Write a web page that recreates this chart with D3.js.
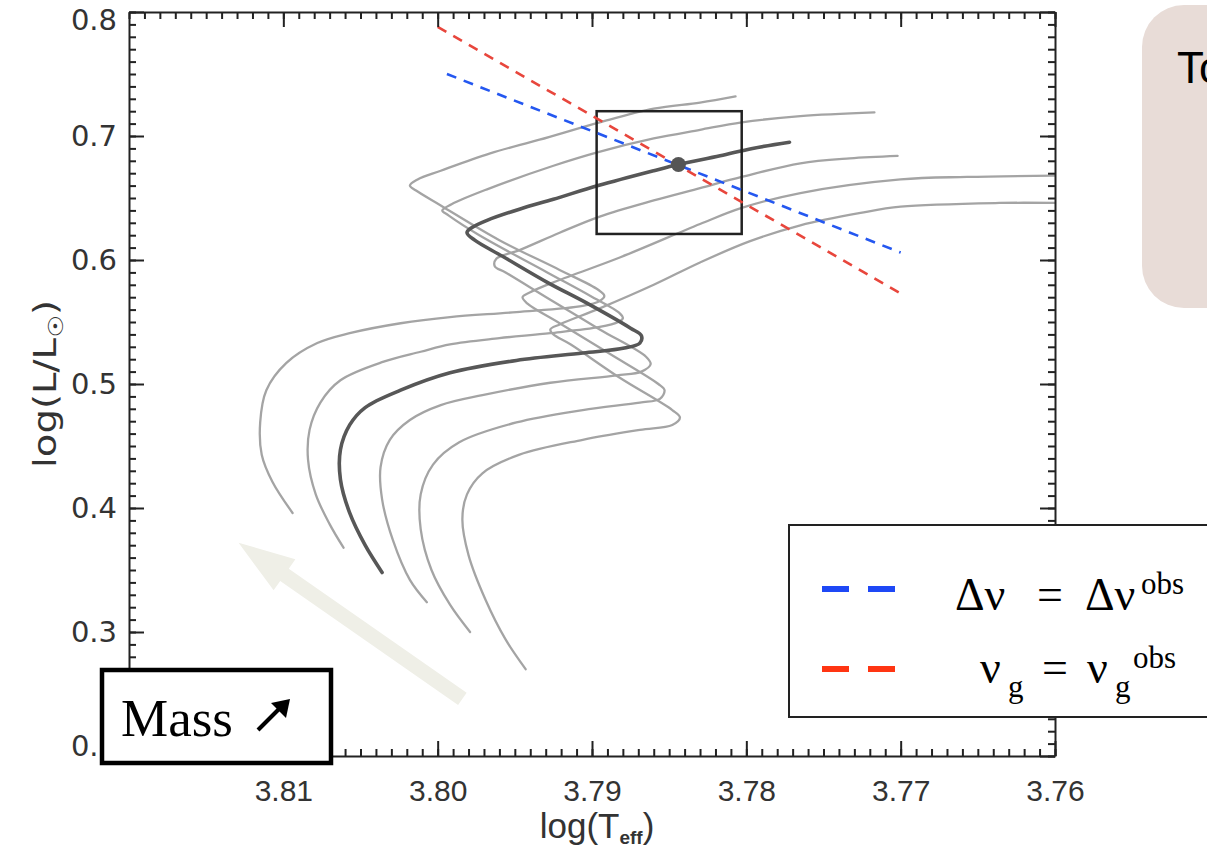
<!DOCTYPE html>
<meta charset="utf-8">
<style>

body { margin: 0; background: #fff; }
svg { display: block; }

.track {
  fill: none;
  stroke: #a4a4a4;
  stroke-width: 2.3px;
  stroke-linejoin: round;
  stroke-linecap: round;
}

.track--main {
  stroke: #575757;
  stroke-width: 3.6px;
}

.axis path, .axis line {
  stroke: #222;
  stroke-width: 2px;
}

.ytick text { font: 29px "DejaVu Sans", sans-serif; fill: #333; }
.xtick text { font: 30px "Liberation Sans", Arial, sans-serif; fill: #333; }

.serif { font-family: "Liberation Serif", "Times New Roman", serif; }

</style>
<svg width="1207" height="849"></svg>
<script src="https://cdn.jsdelivr.net/npm/d3@7"></script>
<script>

// tick values
var xMajor = [3.81, 3.80, 3.79, 3.78, 3.77, 3.76];
var yMajor = [0.2, 0.3, 0.4, 0.5, 0.6, 0.7, 0.8];

// evolutionary tracks, [log Teff, log L/Lsun], lowest mass first
var track1 = [[3.7943,0.270],[3.7956,0.294],[3.7969,0.326],[3.7980,0.362],[3.7984,0.391],[3.7981,0.411],
  [3.7971,0.428],[3.7947,0.443],[3.7906,0.455],[3.7869,0.463],[3.7848,0.467],[3.7843,0.473],[3.7848,0.479],
  [3.7882,0.505],[3.7914,0.532],[3.7925,0.540],[3.7927,0.544],[3.7921,0.548],[3.7895,0.561],[3.7860,0.580],
  [3.7830,0.598],[3.7798,0.615],[3.7765,0.628],[3.7726,0.638],[3.7700,0.643],[3.7636,0.646],[3.7600,0.646]];

var track2 = [[3.7979,0.300],[3.7992,0.322],[3.8004,0.350],[3.8011,0.383],[3.8011,0.411],[3.8003,0.435],
  [3.7986,0.453],[3.7949,0.469],[3.7906,0.479],[3.7869,0.485],[3.7856,0.488],[3.7853,0.495],[3.7857,0.500],
  [3.7888,0.524],[3.7921,0.549],[3.7942,0.565],[3.7945,0.570],[3.7940,0.574],[3.7925,0.582],[3.7882,0.602],
  [3.7830,0.629],[3.7803,0.642],[3.7765,0.654],[3.7700,0.665],[3.7657,0.667],[3.7600,0.668]];

var track3 = [[3.8007,0.324],[3.8018,0.342],[3.8029,0.374],[3.8036,0.407],[3.8037,0.433],[3.8031,0.455],
  [3.8018,0.471],[3.7998,0.483],[3.7971,0.491],[3.7927,0.501],[3.7884,0.507],[3.7868,0.510],[3.7862,0.516],
  [3.7865,0.522],[3.7895,0.544],[3.7927,0.568],[3.7956,0.590],[3.7963,0.595],[3.7962,0.601],[3.7947,0.608],
  [3.7921,0.622],[3.7895,0.635],[3.7860,0.648],[3.7830,0.658],[3.7803,0.667],[3.7765,0.678],[3.7733,0.682],
  [3.7702,0.684]];

var track4 = [[3.8036,0.348],[3.8047,0.370],[3.8057,0.396],[3.8063,0.423],[3.8063,0.447],[3.8057,0.467],
  [3.8047,0.481],[3.8024,0.495],[3.7992,0.509],[3.7949,0.519],[3.7906,0.525],[3.7879,0.529],[3.7869,0.533],
  [3.7868,0.539],[3.7875,0.545],[3.7903,0.565],[3.7929,0.582],[3.7958,0.603],[3.7976,0.616],[3.7981,0.622],
  [3.7978,0.626],[3.7968,0.632],[3.7947,0.641],[3.7925,0.649],[3.7896,0.660],[3.7860,0.672],[3.7844,0.677],
  [3.7817,0.684],[3.7796,0.690],[3.7772,0.695]];

var track5 = [[3.8061,0.368],[3.8070,0.387],[3.8079,0.411],[3.8084,0.439],[3.8083,0.463],[3.8076,0.485],
  [3.8063,0.503],[3.8035,0.518],[3.8011,0.526],[3.7992,0.532],[3.7960,0.537],[3.7927,0.541],[3.7895,0.546],
  [3.7883,0.550],[3.7880,0.553],[3.7882,0.557],[3.7901,0.571],[3.7929,0.590],[3.7973,0.620],[3.7993,0.636],
  [3.7997,0.640],[3.7991,0.645],[3.7968,0.657],[3.7925,0.676],[3.7896,0.687],[3.7860,0.698],[3.7830,0.705],
  [3.7803,0.711],[3.7765,0.716],[3.7717,0.719]];

var track6 = [[3.8094,0.396],[3.8107,0.421],[3.8114,0.443],[3.8115,0.469],[3.8111,0.495],[3.8098,0.517],
  [3.8078,0.533],[3.8057,0.541],[3.8024,0.549],[3.7992,0.554],[3.7949,0.558],[3.7906,0.563],[3.7895,0.567],
  [3.7892,0.571],[3.7896,0.576],[3.7921,0.592],[3.7960,0.616],[3.7998,0.644],[3.8014,0.656],[3.8018,0.660],
  [3.8013,0.665],[3.7998,0.672],[3.7966,0.686],[3.7934,0.697],[3.7895,0.711],[3.7860,0.722],[3.7830,0.727],
  [3.7807,0.732]];

var tracks = [track1, track2, track3, track4, track5, track6];
var mainTrack = 3;

// observational constraints
var dnuLine = [[3.7994, 0.750], [3.7700, 0.606]];
var nugLine = [[3.8000, 0.788], [3.7700, 0.573]];
var errorBox = {teff: [3.7897, 3.7803], lum: [0.621, 0.720]};
var bestModel = [3.7844, 0.677];
var massArrow = [[3.7984, 0.246], [3.8129, 0.372]];

var svg = d3.select("svg"),
    width = +svg.attr("width"),
    height = +svg.attr("height");

var x = d3.scaleLinear().domain([3.82, 3.76]).range([129, 1055]),
    y = d3.scaleLinear().domain([0.2, 0.8]).range([756, 12]);

var line = d3.line()
    .x(function(d) { return x(d[0]); })
    .y(function(d) { return y(d[1]); })
    .curve(d3.curveCatmullRom.alpha(0.5));

var straight = d3.line()
    .x(function(d) { return x(d[0]); })
    .y(function(d) { return y(d[1]); });

svg.append("defs").append("clipPath")
    .attr("id", "frame")
  .append("rect")
    .attr("x", x(3.82)).attr("y", y(0.8))
    .attr("width", x(3.76) - x(3.82)).attr("height", y(0.2) - y(0.8));

// big mass arrow behind everything
var a0 = [x(massArrow[0][0]), y(massArrow[0][1])],
    a1 = [x(massArrow[1][0]), y(massArrow[1][1])];
var ang = Math.atan2(a1[1] - a0[1], a1[0] - a0[0]) * 180 / Math.PI,
    len = Math.hypot(a1[0] - a0[0], a1[1] - a0[1]);
svg.append("path")
    .attr("transform", "translate(" + a0 + ") rotate(" + ang + ")")
    .attr("d", "M0,-7.5H" + (len - 56) + "V-19L" + len + ",0L" + (len - 56) + ",19V7.5H0Z")
    .style("fill", "#efefe7");

var plot = svg.append("g").attr("clip-path", "url(#frame)");

plot.selectAll(".track")
  .data(tracks.filter(function(d, i) { return i !== mainTrack; }))
  .enter().append("path")
    .attr("class", "track")
    .attr("d", line);

plot.append("path")
    .attr("class", "track track--main")
    .attr("d", line(tracks[mainTrack]));

plot.append("rect")
    .attr("x", x(errorBox.teff[0]))
    .attr("y", y(errorBox.lum[1]))
    .attr("width", x(errorBox.teff[1]) - x(errorBox.teff[0]))
    .attr("height", y(errorBox.lum[0]) - y(errorBox.lum[1]))
    .style("fill", "none").style("stroke", "#222").style("stroke-width", 2.5);

plot.append("path")
    .attr("d", straight(dnuLine))
    .style("fill", "none").style("stroke", "#2457f0").style("stroke-width", 2.6)
    .style("stroke-dasharray", "10,8");

plot.append("path")
    .attr("d", straight(nugLine))
    .style("fill", "none").style("stroke", "#e8463c").style("stroke-width", 2.6)
    .style("stroke-dasharray", "10,8");

plot.append("circle")
    .attr("cx", x(bestModel[0])).attr("cy", y(bestModel[1])).attr("r", 7.5)
    .style("fill", "#555");

// axes: major and minor ticks on all four sides, pointing inward
var xMinor = d3.range(61).map(function(i) { return +(3.76 + i * 0.001).toFixed(3); }),
    yMinor = d3.range(61).map(function(i) { return +(0.2 + i * 0.01).toFixed(2); });

svg.append("g").attr("class", "axis xtick").attr("transform", "translate(0," + y(0.2) + ")")
    .call(d3.axisBottom(x).tickValues(xMajor).tickSize(-15).tickSizeOuter(0).tickPadding(24)
      .tickFormat(d3.format(".2f")));
svg.append("g").attr("class", "axis").attr("transform", "translate(0," + y(0.8) + ")")
    .call(d3.axisTop(x).tickValues(xMajor).tickSize(-15).tickSizeOuter(0).tickFormat(""));
svg.append("g").attr("class", "axis ytick").attr("transform", "translate(" + x(3.82) + ",0)")
    .call(d3.axisLeft(y).tickValues(yMajor).tickSize(-15).tickSizeOuter(0).tickPadding(12)
      .tickFormat(d3.format(".1f")))
  .selectAll(".tick text")
    .attr("y", function(d) { return d === 0.8 ? 8 : d === 0.2 ? -10 : 0; });
svg.append("g").attr("class", "axis").attr("transform", "translate(" + x(3.76) + ",0)")
    .call(d3.axisRight(y).tickValues(yMajor).tickSize(-15).tickSizeOuter(0).tickFormat(""));

[[d3.axisBottom(x), "translate(0," + y(0.2) + ")", xMinor],
 [d3.axisTop(x), "translate(0," + y(0.8) + ")", xMinor],
 [d3.axisLeft(y), "translate(" + x(3.82) + ",0)", yMinor],
 [d3.axisRight(y), "translate(" + x(3.76) + ",0)", yMinor]].forEach(function(a) {
  svg.append("g").attr("class", "axis").attr("transform", a[1])
      .call(a[0].tickValues(a[2]).tickSize(-7).tickFormat(""))
    .select(".domain").remove();
});

// axis titles
var ylab = svg.append("text")
    .attr("transform", "translate(56,384) rotate(-90)")
    .attr("text-anchor", "middle")
    .attr("textLength", 168)
    .attr("lengthAdjust", "spacingAndGlyphs")
    .style("font", "32px 'DejaVu Sans', sans-serif")
    .style("fill", "#333");
ylab.append("tspan").text("log(L/L");
ylab.append("tspan").attr("dy", 7).style("font-size", "21px").text("\u2609");
ylab.append("tspan").attr("dy", -7).text(")");

var xlab = svg.append("text")
    .attr("x", 597).attr("y", 838)
    .attr("text-anchor", "middle")
    .style("font", "35px 'Liberation Sans', Arial, sans-serif")
    .style("fill", "#333");
xlab.append("tspan").text("log(T");
xlab.append("tspan").attr("dy", 6).style("font-size", "19px").style("font-weight", "bold").text("eff");
xlab.append("tspan").attr("dy", -6).text(")");

// Mass box
var massBox = svg.append("g");
massBox.append("rect")
    .attr("x", 102).attr("y", 670).attr("width", 229).attr("height", 93)
    .style("fill", "#fff").style("stroke", "#000").style("stroke-width", 4.5);
massBox.append("text")
    .attr("class", "serif")
    .attr("x", 121).attr("y", 736)
    .style("font-size", "53px")
    .text("Mass");
massBox.append("path")
    .attr("d", "M258,730L280,708")
    .style("stroke", "#000").style("stroke-width", 4);
massBox.append("path")
    .attr("d", "M290,699L286,718L271,703Z")
    .style("fill", "#000");

// legend
var legend = svg.append("g");
legend.append("rect")
    .attr("x", 789).attr("y", 525).attr("width", 500).attr("height", 192)
    .style("fill", "#fff").style("stroke", "#222").style("stroke-width", 2);
legend.append("line")
    .attr("x1", 822).attr("x2", 895).attr("y1", 589).attr("y2", 589)
    .style("stroke", "#1e48f6").style("stroke-width", 6).style("stroke-dasharray", "27,19");
legend.append("line")
    .attr("x1", 822).attr("x2", 895).attr("y1", 669).attr("y2", 669)
    .style("stroke", "#ff3512").style("stroke-width", 6).style("stroke-dasharray", "27,19");

var l1 = legend.append("text").attr("class", "serif").style("font-size", "46px");
l1.append("tspan").attr("x", 955).attr("y", 610).text("\u0394\u03bd");
l1.append("tspan").attr("x", 1037).attr("y", 610).text("=");
l1.append("tspan").attr("x", 1085).attr("y", 610).text("\u0394\u03bd");
l1.append("tspan").attr("x", 1141).attr("y", 594).style("font-size", "31px").text("obs");

var l2 = legend.append("text").attr("class", "serif").style("font-size", "46px");
l2.append("tspan").attr("x", 980).attr("y", 683).text("\u03bd");
l2.append("tspan").attr("x", 1008).attr("y", 697).style("font-size", "31px").text("g");
l2.append("tspan").attr("x", 1042).attr("y", 683).text("=");
l2.append("tspan").attr("x", 1087).attr("y", 683).text("\u03bd");
l2.append("tspan").attr("x", 1115).attr("y", 697).style("font-size", "31px").text("g");
l2.append("tspan").attr("x", 1133).attr("y", 668).style("font-size", "31px").text("obs");

// note box at top right, cut by the page edge
svg.append("rect")
    .attr("x", 1142).attr("y", 5).attr("width", 200).attr("height", 303).attr("rx", 42)
    .style("fill", "#e8dcd7");
svg.append("text")
    .attr("x", 1177).attr("y", 83)
    .style("font", "44px 'Liberation Sans', Arial, sans-serif")
    .text("To");

</script>
